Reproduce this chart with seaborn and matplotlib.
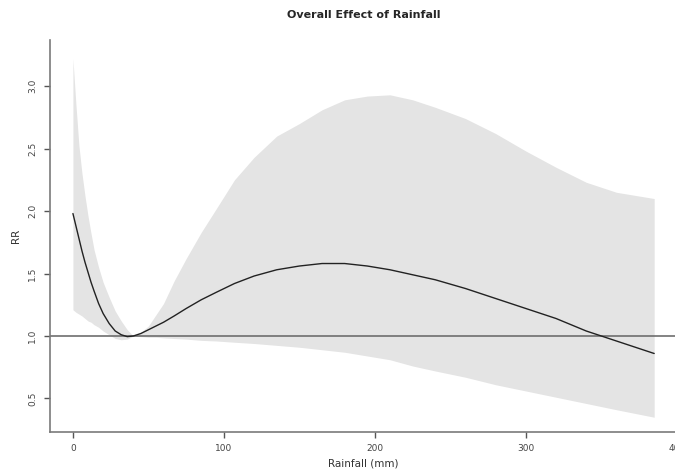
import matplotlib
matplotlib.use('Agg')
import matplotlib.pyplot as plt
import seaborn as sns
import numpy as np


# rainfall values (mm)
rain = [0, 2, 4, 6, 8, 10, 12, 14, 17, 20, 24, 28, 32, 36, 40, 45, 50, 55, 60, 67, 75,
        85, 95, 107, 120, 135, 150, 165, 180, 195, 210, 225, 240, 260, 280, 300, 320,
        340, 360, 385]

# relative risk (central line)
rr = [1.98, 1.88, 1.78, 1.68, 1.59, 1.51, 1.43, 1.36, 1.26, 1.18, 1.10, 1.04, 1.01,
      0.995, 1.0, 1.02, 1.05, 1.08, 1.11, 1.16, 1.22, 1.29, 1.35, 1.42, 1.48, 1.53,
      1.56, 1.58, 1.58, 1.56, 1.53, 1.49, 1.45, 1.38, 1.30, 1.22, 1.14, 1.04, 0.96, 0.86]

# confidence band
rr_low = [1.21, 1.19, 1.175, 1.16, 1.14, 1.12, 1.11, 1.09, 1.07, 1.04, 1.01, 0.98,
          0.97, 0.975, 1.0, 0.995, 0.99, 0.99, 0.985, 0.98, 0.975, 0.965, 0.96, 0.95,
          0.94, 0.925, 0.91, 0.89, 0.87, 0.84, 0.81, 0.76, 0.72, 0.67, 0.61, 0.56,
          0.51, 0.46, 0.41, 0.35]
rr_high = [3.22, 2.85, 2.52, 2.30, 2.12, 1.96, 1.82, 1.69, 1.55, 1.43, 1.31, 1.20,
           1.12, 1.05, 1.0, 1.03, 1.08, 1.17, 1.26, 1.44, 1.62, 1.83, 2.02, 2.25, 2.43,
           2.60, 2.70, 2.81, 2.89, 2.92, 2.93, 2.89, 2.83, 2.74, 2.62, 2.48, 2.35, 2.23,
           2.15, 2.10]

xticks = [0, 100, 200, 300, 400]
yticks = [0.5, 1.0, 1.5, 2.0, 2.5, 3.0]

sns.set_style('white')
plt.rcParams['font.family'] = ['DejaVu Sans']

fig = plt.figure(figsize=(6.75, 4.75), dpi=100)
ax = fig.add_axes([0.0736, 0.0911, 0.930, 0.824])

# band + curve + reference line
ax.fill_between(rain, rr_low, rr_high, color='#e4e4e4', linewidth=0)
ax.axhline(1.0, color='#6e6e6e', lw=1.2)
sns.lineplot(x=rain, y=rr, ax=ax, color='#222222', lw=1.0)

ax.set_xlim(-15.4, 400.4)
ax.set_ylim(0.234, 3.366)
ax.set_xticks(xticks)
ax.set_yticks(yticks)
ax.set_xticklabels([str(t) for t in xticks], fontsize=6.5, color='#444444')
ax.set_yticklabels(['0.5', '1.0', '1.5', '2.0', '2.5', '3.0'], fontsize=6.5,
                   color='#444444', rotation=90, va='center')

for s in ['top', 'right']:
    ax.spines[s].set_visible(False)
for s in ['left', 'bottom']:
    ax.spines[s].set_color('#7a7a7a')
    ax.spines[s].set_linewidth(1.2)
ax.tick_params(axis='both', direction='out', length=4, width=1, color='#555555', pad=5)
ax.tick_params(axis='both', which='both', bottom=True, left=True)

ax.set_xlabel('Rainfall (mm)', fontsize=7.5, color='#333333', labelpad=4)
ax.set_ylabel('RR', fontsize=7.5, color='#333333', labelpad=5)
ax.set_title('Overall Effect of Rainfall', fontsize=8, fontweight='bold', pad=16)

fig.savefig('out.png', dpi=100)
